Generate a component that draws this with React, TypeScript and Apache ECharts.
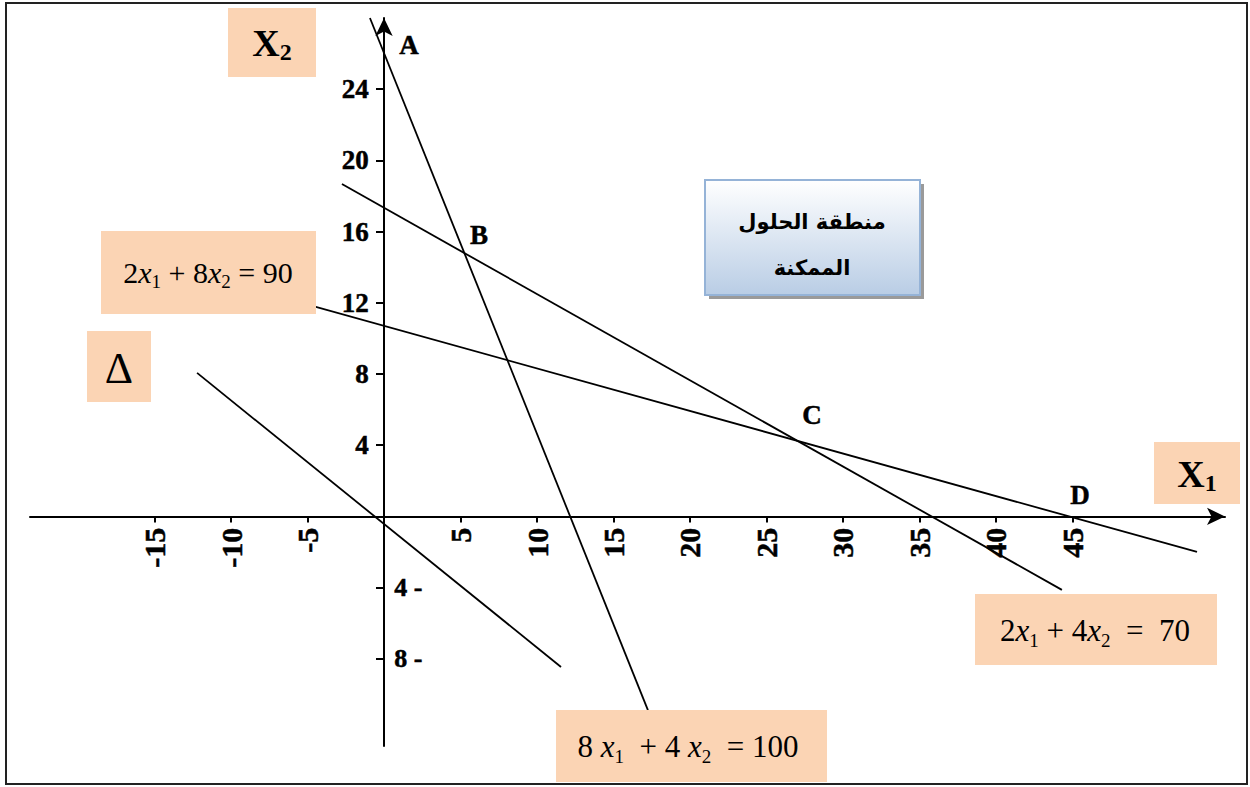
import React, { useEffect, useRef } from "react";
import * as echarts from "echarts";

// Axis ticks and labels
const xTickValues = [-15, -10, -5, 5, 10, 15, 20, 25, 30, 35, 40, 45];
const yTickValues = [-8, -4, 4, 8, 12, 16, 20, 24];
const yLabelValues = [4, 8, 12, 16, 20, 24];
const yNegLabelValues = [-4, -8];
const yNegLabelTexts = ["4 -", "8 -"];

// Constraint lines (end points)
const line1 = [[-0.92, 28.0], [17.25, -10.88]]; // 8x1 + 4x2 = 100
const line2 = [[-2.75, 18.67], [44.31, -4.13]]; // 2x1 + 4x2 = 70
const line3 = [[-8.1, 12.64], [53.14, -2.0]]; // 2x1 + 8x2 = 90
const deltaLine = [[-12.22, 8.06], [11.57, -8.46]]; // objective direction

// Corner point labels
const pointNames = ["A", "B", "C", "D"];
const pointLabelX = [1.63, 6.21, 27.97, 45.49];
const pointLabelY = [26.48, 15.81, 5.7, 1.2];

const SERIF = "'Liberation Serif', 'Times New Roman', serif";
const PEACH = "#FBD4B4";

export default function App() {
  const ref = useRef<HTMLDivElement>(null);

  useEffect(() => {
    if (!ref.current) return;
    const chart = echarts.init(ref.current, undefined, { renderer: "svg" });

    const lineSeries = (data: number[][]) => ({
      type: "line",
      data,
      symbol: "none",
      silent: true,
      lineStyle: { color: "#000", width: 1.8 },
      z: 3,
    });

    const labelScatter = (data: any[], label: any) => ({
      type: "scatter",
      silent: true,
      symbolSize: 0.5,
      itemStyle: { color: "#000", opacity: 1 },
      data,
      label: {
        show: true,
        formatter: "{b}",
        fontFamily: SERIF,
        fontWeight: "bold",
        color: "#000",
        opacity: 1,
        textBorderColor: "#000",
        textBorderWidth: 0.5,
        ...label,
      },
      z: 5,
    });

    const eqRich = (fs: number) => ({
      n: { fontFamily: SERIF, fontSize: fs, lineHeight: fs + 8, color: "#000" },
      i: { fontFamily: SERIF, fontSize: fs, fontStyle: "italic", lineHeight: fs + 8, color: "#000" },
      s: { fontFamily: SERIF, fontSize: Math.round(fs * 0.62), lineHeight: Math.round(fs * 0.62), verticalAlign: "bottom", color: "#000" },
    });
    const axRich = {
      b: { fontFamily: SERIF, fontSize: 38, fontWeight: "bold", lineHeight: 42, color: "#000" },
      s: { fontFamily: SERIF, fontSize: 24, fontWeight: "bold", lineHeight: 24, verticalAlign: "bottom", color: "#000" },
    };

    const box = (x: number, y: number, w: number, h: number) => ({
      type: "rect",
      z: 100,
      shape: { x, y, width: w, height: h },
      style: { fill: PEACH },
    });
    const txt = (x: number, y: number, text: string, rich: any, extra: any = {}) => ({
      type: "text",
      z: 101,
      x,
      y,
      style: { text, rich, align: "center", verticalAlign: "middle", ...extra },
    });

    chart.setOption({
      animation: false,
      backgroundColor: "#fff",
      grid: { left: 30, top: 18, width: 1195, height: 728, containLabel: false, outerBoundsMode: "none" },
      xAxis: {
        type: "value",
        min: -23.14,
        max: 54.97,
        axisLine: {
          onZero: true,
          symbol: ["none", "arrow"],
          symbolSize: [13, 18],
          lineStyle: { color: "#000", width: 2 },
        },
        axisTick: {
          show: true,
          customValues: xTickValues,
          length: 6,
          lineStyle: { color: "#000", width: 2 },
        },
        axisLabel: { show: false },
        splitLine: { show: false },
      },
      yAxis: {
        type: "value",
        min: -12.9,
        max: 28,
        axisLine: {
          onZero: true,
          symbol: ["none", "arrow"],
          symbolSize: [13, 18],
          lineStyle: { color: "#000", width: 2 },
        },
        axisTick: {
          show: true,
          customValues: yTickValues,
          length: 8,
          lineStyle: { color: "#000", width: 2 },
        },
        axisLabel: { show: false },
        splitLine: { show: false },
      },
      series: [
        lineSeries(line1),
        lineSeries(line2),
        lineSeries(line3),
        lineSeries(deltaLine),
        labelScatter(
          pointNames.map((n, i) => ({ name: n, value: [pointLabelX[i], pointLabelY[i]] })),
          { position: "inside", fontSize: 27 }
        ),
        labelScatter(
          yNegLabelValues.map((v, i) => ({ name: yNegLabelTexts[i], value: [0, v] })),
          { position: "right", distance: 10, fontSize: 26 }
        ),
        labelScatter(
          yLabelValues.map((v) => ({ name: String(v), value: [0, v] })),
          { position: "left", distance: 15, fontSize: 27 }
        ),
        labelScatter(
          xTickValues.map((v) => ({ name: String(v), value: [v, 0] })),
          { position: "bottom", distance: 11, fontSize: 30, rotate: 90, align: "right", verticalAlign: "middle" }
        ),
      ],
      graphic: [
        {
          type: "rect",
          z: 0,
          shape: { x: 6, y: 3, width: 1241, height: 781 },
          style: { fill: "none", stroke: "#222", lineWidth: 2 },
        },
        box(228, 8, 88, 69),
        txt(272, 43, "{b|X}{s|2}", axRich),
        box(1154, 442, 86, 62),
        txt(1197, 474, "{b|X}{s|1}", axRich),
        box(101, 231, 215, 83),
        txt(208, 272, "{n|2}{i|x}{s|1}{n| + 8}{i|x}{s|2}{n| = 90}", eqRich(30)),
        box(87, 331, 64, 71),
        txt(119, 368, "Δ", {}, { fontFamily: SERIF, fontSize: 44, fill: "#000" }),
        box(975, 594, 242, 71),
        txt(1095, 630, "{n|2}{i|x}{s|1}{n| + 4}{i|x}{s|2}{n|  =  70}", eqRich(31)),
        box(556, 710, 271, 72),
        txt(688, 746, "{n|8 }{i|x}{s|1}{n|  + 4 }{i|x}{s|2}{n|  = 100}", eqRich(31)),
        {
          type: "rect",
          z: 100,
          shape: { x: 709, y: 184, width: 215, height: 115 },
          style: { fill: "#9a9a9a" },
        },
        {
          type: "rect",
          z: 101,
          shape: { x: 705, y: 180, width: 215, height: 115 },
          style: {
            fill: new echarts.graphic.LinearGradient(0, 0, 0, 1, [
              { offset: 0, color: "#ffffff" },
              { offset: 1, color: "#b9cde5" },
            ]),
            stroke: "#95B3D7",
            lineWidth: 2,
          },
        },
        {
          type: "text",
          z: 102,
          x: 812,
          y: 245,
          style: {
            text: "منطقة الحلول\nالممكنة",
            align: "center",
            verticalAlign: "middle",
            fontFamily: "'DejaVu Sans', 'Noto Sans', sans-serif",
            fontWeight: "bold",
            fontSize: 21,
            lineHeight: 46,
            fill: "#000",
          },
        },
      ],
    });

    return () => chart.dispose();
  }, []);

  return (
    <div
      ref={ref}
      style={{ position: "fixed", left: 0, top: 0, width: 1250, height: 787, background: "#fff" }}
    />
  );
}
